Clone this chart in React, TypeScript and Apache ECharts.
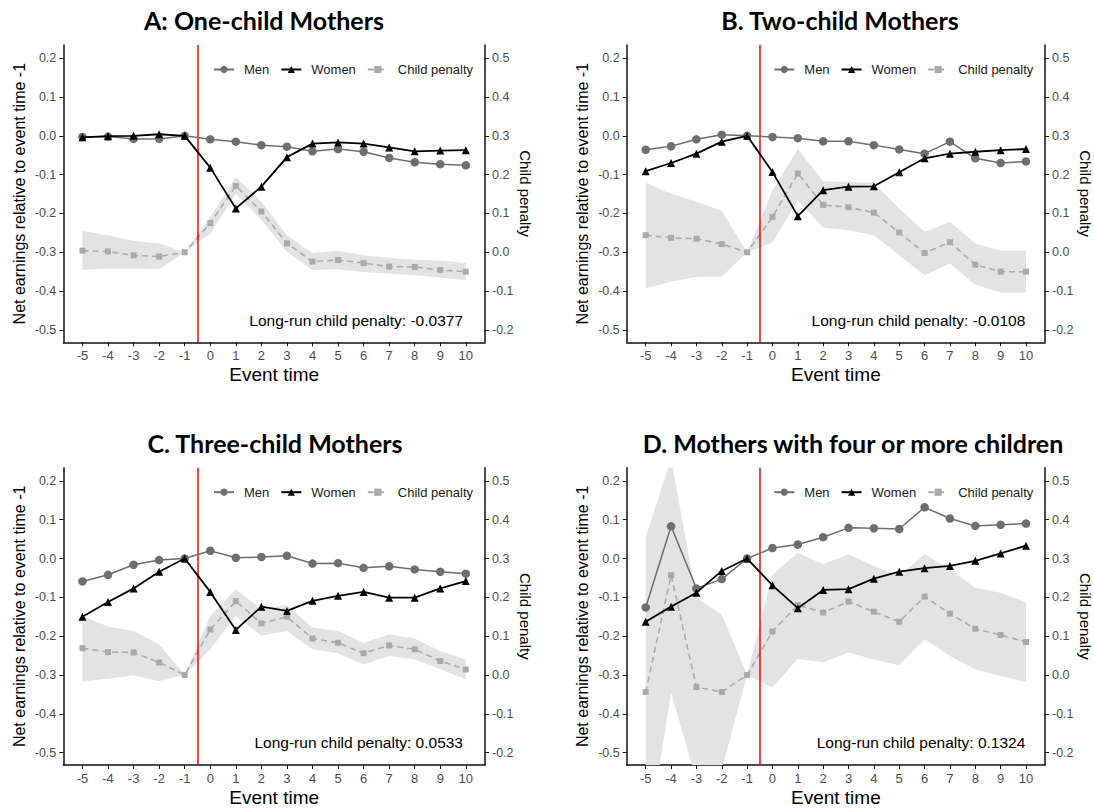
import React, { useEffect, useRef } from "react";
import * as echarts from "echarts";

const eventTimes = [-5, -4, -3, -2, -1, 0, 1, 2, 3, 4, 5, 6, 7, 8, 9, 10];
const leftTicks = [-0.5, -0.4, -0.3, -0.2, -0.1, 0, 0.1, 0.2];
const rightTicks = [-0.2, -0.1, 0, 0.1, 0.2, 0.3, 0.4, 0.5];

const titles = [
  "A: One-child Mothers",
  "B. Two-child Mothers",
  "C. Three-child Mothers",
  "D. Mothers with four or more children",
];
const longRun = ["-0.0377", "-0.0108", "0.0533", "0.1324"];

// Panel A
const menA = [-0.003, -0.002, -0.008, -0.008, 0, -0.009, -0.015, -0.024, -0.028, -0.04, -0.034, -0.041, -0.057, -0.068, -0.073, -0.076];
const womenA = [-0.004, -0.001, 0.0, 0.004, 0, -0.082, -0.187, -0.131, -0.055, -0.02, -0.017, -0.02, -0.03, -0.04, -0.038, -0.037];
const cpA = [0.004, 0.002, -0.008, -0.011, 0, 0.075, 0.171, 0.105, 0.023, -0.024, -0.02, -0.028, -0.037, -0.038, -0.046, -0.05];
const cpLoA = [-0.046, -0.042, -0.042, -0.043, 0, 0.048, 0.151, 0.083, 0.001, -0.046, -0.044, -0.051, -0.055, -0.059, -0.065, -0.072];
const cpHiA = [0.055, 0.044, 0.029, 0.023, 0, 0.091, 0.194, 0.13, 0.044, -0.002, 0.003, -0.008, -0.014, -0.019, -0.022, -0.027];

// Panel B
const menB = [-0.036, -0.027, -0.009, 0.003, 0, -0.003, -0.006, -0.014, -0.014, -0.024, -0.035, -0.046, -0.015, -0.058, -0.07, -0.066];
const womenB = [-0.091, -0.07, -0.046, -0.015, 0, -0.093, -0.207, -0.14, -0.131, -0.13, -0.094, -0.058, -0.046, -0.041, -0.037, -0.034];
const cpB = [0.044, 0.037, 0.035, 0.021, 0, 0.091, 0.203, 0.122, 0.116, 0.102, 0.051, -0.002, 0.026, -0.032, -0.05, -0.05];
const cpLoB = [-0.093, -0.076, -0.063, -0.063, 0, 0.025, 0.134, 0.063, 0.057, 0.044, -0.008, -0.059, -0.029, -0.084, -0.104, -0.104];
const cpHiB = [0.18, 0.151, 0.13, 0.106, 0, 0.16, 0.266, 0.183, 0.181, 0.179, 0.113, 0.053, 0.078, 0.023, 0.004, 0.004];

// Panel C
const menC = [-0.059, -0.042, -0.016, -0.004, 0, 0.02, 0.002, 0.004, 0.007, -0.013, -0.012, -0.024, -0.02, -0.028, -0.034, -0.039];
const womenC = [-0.15, -0.112, -0.077, -0.034, 0, -0.086, -0.184, -0.124, -0.135, -0.109, -0.096, -0.086, -0.101, -0.101, -0.077, -0.058];
const cpC = [0.069, 0.059, 0.058, 0.032, 0, 0.117, 0.19, 0.133, 0.15, 0.094, 0.083, 0.056, 0.076, 0.066, 0.036, 0.014];
const cpLoC = [-0.016, -0.01, -0.001, -0.016, 0, 0.066, 0.152, 0.101, 0.113, 0.066, 0.056, 0.027, 0.049, 0.04, 0.015, -0.011];
const cpHiC = [0.152, 0.125, 0.113, 0.079, 0, 0.152, 0.221, 0.169, 0.18, 0.122, 0.113, 0.083, 0.104, 0.094, 0.062, 0.04];

// Panel D
const menD = [-0.126, 0.083, -0.077, -0.053, 0, 0.027, 0.036, 0.055, 0.079, 0.078, 0.076, 0.132, 0.103, 0.084, 0.087, 0.09];
const womenD = [-0.163, -0.124, -0.088, -0.032, 0, -0.069, -0.128, -0.081, -0.079, -0.052, -0.034, -0.025, -0.019, -0.006, 0.013, 0.033];
const cpD = [-0.044, 0.257, -0.031, -0.044, 0, 0.112, 0.18, 0.161, 0.189, 0.163, 0.137, 0.202, 0.158, 0.119, 0.103, 0.085];
const cpLoD = [-0.46, -0.046, -0.273, -0.244, 0, -0.033, 0.042, 0.033, 0.058, 0.04, 0.025, 0.092, 0.049, 0.015, -0.003, -0.018];
const cpHiD = [0.355, 0.558, 0.199, 0.156, 0, 0.258, 0.315, 0.285, 0.311, 0.281, 0.255, 0.311, 0.272, 0.225, 0.212, 0.187];

const menAll = [menA, menB, menC, menD];
const womenAll = [womenA, womenB, womenC, womenD];
const cpAll = [cpA, cpB, cpC, cpD];
const cpLoAll = [cpLoA, cpLoB, cpLoC, cpLoD];
const cpHiAll = [cpHiA, cpHiB, cpHiC, cpHiD];

// layout
const W = 1094;
const H = 808;
const grids = [
  { left: 63.3, top: 45, width: 421.7, height: 297.3 },
  { left: 626.7, top: 45, width: 420.6, height: 297.3 },
  { left: 63.3, top: 467.7, width: 421.7, height: 298 },
  { left: 626.7, top: 467.7, width: 420.6, height: 298 },
];
const titlePos = [
  [264, 20],
  [840, 20],
  [275, 443],
  [853, 443],
];

const FONT = "Liberation Sans";
const AXIS_COLOR = "#111";
const LABEL_COLOR = "#4d4d4d";

function pairs(vals: number[]) {
  return eventTimes.map((x, i) => [x, vals[i]]);
}

function buildOption() {
  const xAxis: any[] = [];
  const yAxis: any[] = [];
  const series: any[] = [];
  const legend: any[] = [];
  const graphic: any[] = [];

  grids.forEach((g, i) => {
    xAxis.push({
      type: "value",
      gridIndex: i,
      min: -5.75,
      max: 10.75,
      name: "Event time",
      nameLocation: "middle",
      nameGap: 23,
      nameTextStyle: { fontSize: 19, color: "#000", fontFamily: FONT },
      axisLine: { show: true, onZero: false, lineStyle: { color: AXIS_COLOR, width: 1.5 } },
      axisTick: { show: true, length: 4, lineStyle: { color: AXIS_COLOR, width: 1 }, customValues: eventTimes },
      axisLabel: {
        customValues: eventTimes,
        fontSize: 13,
        color: LABEL_COLOR,
        fontFamily: FONT,
        margin: 7,
        formatter: (v: number) => String(v),
      },
      splitLine: { show: false },
    });
    yAxis.push({
      type: "value",
      gridIndex: i,
      position: "left",
      min: -0.532,
      max: 0.234,
      name: "Net earnings relative to event time -1",
      nameLocation: "middle",
      nameGap: 36,
      nameTextStyle: { fontSize: 16, color: "#000", fontFamily: FONT },
      axisLine: { show: true, onZero: false, lineStyle: { color: AXIS_COLOR, width: 1.5 } },
      axisTick: { show: true, length: 4, lineStyle: { color: AXIS_COLOR, width: 1 }, customValues: leftTicks },
      axisLabel: {
        customValues: leftTicks,
        fontSize: 12.5,
        color: LABEL_COLOR,
        fontFamily: FONT,
        margin: 7,
        formatter: (v: number) => v.toFixed(1),
      },
      splitLine: { show: false },
    });
    yAxis.push({
      type: "value",
      gridIndex: i,
      position: "right",
      min: -0.232,
      max: 0.534,
      name: "Child penalty",
      nameLocation: "middle",
      nameRotate: -90,
      nameGap: 33,
      nameTextStyle: { fontSize: 15, color: "#000", fontFamily: FONT },
      axisLine: { show: true, onZero: false, lineStyle: { color: AXIS_COLOR, width: 1.5 } },
      axisTick: { show: true, length: 4, lineStyle: { color: AXIS_COLOR, width: 1 }, customValues: rightTicks },
      axisLabel: {
        customValues: rightTicks,
        fontSize: 12.5,
        color: LABEL_COLOR,
        fontFamily: FONT,
        margin: 7,
        formatter: (v: number) => v.toFixed(1),
      },
      splitLine: { show: false },
    });

    const lo = cpLoAll[i];
    const hi = cpHiAll[i];

    series.push({
      name: "band-" + i,
      type: "custom",
      xAxisIndex: i,
      yAxisIndex: 2 * i + 1,
      clip: true,
      silent: true,
      z: 1,
      data: eventTimes.map((x, k) => [x, lo[k], hi[k]]),
      encode: { x: 0, y: [1, 2] },
      renderItem: (params: any, api: any) => {
        if (params.dataIndex !== 0) return null;
        const pts: number[][] = [];
        for (let k = 0; k < eventTimes.length; k++) pts.push(api.coord([eventTimes[k], lo[k]]));
        for (let k = eventTimes.length - 1; k >= 0; k--) pts.push(api.coord([eventTimes[k], hi[k]]));
        return {
          type: "polygon",
          shape: { points: pts },
          style: { fill: "#e3e3e3", stroke: "none" },
        };
      },
    });
    series.push({
      name: "Child penalty",
      type: "line",
      xAxisIndex: i,
      yAxisIndex: 2 * i + 1,
      data: pairs(cpAll[i]),
      symbol: "rect",
      symbolSize: 6,
      lineStyle: { color: "#aaaaaa", width: 1.5, type: [6, 4] },
      itemStyle: { color: "#aaaaaa" },
      z: 3,
      markLine: {
        silent: true,
        symbol: ["none", "none"],
        label: { show: false },
        lineStyle: { color: "#ff0000", width: 1.5, type: "solid" },
        data: [{ xAxis: -0.5 }],
        z: 4,
      },
    });
    series.push({
      name: "Men",
      type: "line",
      xAxisIndex: i,
      yAxisIndex: 2 * i,
      data: pairs(menAll[i]),
      symbol: "circle",
      symbolSize: 8.5,
      lineStyle: { color: "#6e6e6e", width: 1.5 },
      itemStyle: { color: "#6e6e6e" },
      z: 5,
    });
    series.push({
      name: "Women",
      type: "line",
      xAxisIndex: i,
      yAxisIndex: 2 * i,
      data: pairs(womenAll[i]),
      symbol: "triangle",
      symbolSize: 8,
      lineStyle: { color: "#000000", width: 1.8 },
      itemStyle: { color: "#000000" },
      z: 6,
    });

    const legendRight = g.left + g.width - (i % 2 === 0 ? 7 : 9);
    legend.push({
      data: ["Men", "Women", "Child penalty"],
      right: W - legendRight,
      top: g.top + 13,
      itemWidth: 20,
      itemHeight: 9,
      itemGap: 11,
      textStyle: { fontSize: 13, color: "#1a1a1a", fontFamily: FONT, padding: [0, 0, 0, 5] },
      selectedMode: false,
    });

    graphic.push({
      type: "text",
      x: titlePos[i][0],
      y: titlePos[i][1],
      style: {
        text: titles[i],
        font: "bold 25px Lato",
        fill: "#000",
        align: "center",
        verticalAlign: "middle",
      },
    });
    graphic.push({
      type: "text",
      x: g.left + g.width - 22,
      y: g.top + 275,
      style: {
        text: "Long-run child penalty: " + longRun[i],
        font: "15.5px 'Liberation Sans'",
        fill: "#000",
        align: "right",
        verticalAlign: "middle",
      },
      z: 10,
    });
  });

  return {
    animation: false,
    backgroundColor: "#ffffff",
    grid: grids.map((g) => ({ left: g.left, top: g.top, width: g.width, height: g.height, containLabel: false })),
    xAxis,
    yAxis,
    legend,
    series,
    graphic,
  };
}

export default function App() {
  const ref = useRef<HTMLDivElement>(null);
  useEffect(() => {
    if (!ref.current) return;
    const chart = echarts.init(ref.current, null, { renderer: "svg" });
    chart.setOption(buildOption() as any);
    return () => {
      chart.dispose();
    };
  }, []);
  return (
    <div
      ref={ref}
      style={{ position: "absolute", left: 0, top: 0, width: W, height: H, background: "#fff" }}
    />
  );
}
